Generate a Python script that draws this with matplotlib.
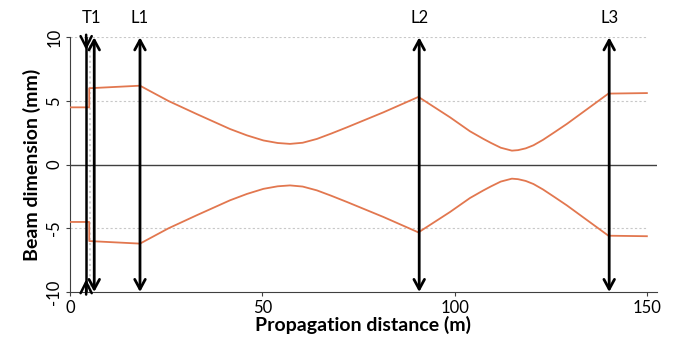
import matplotlib
matplotlib.use("Agg")
import matplotlib.pyplot as plt

plt.rcParams['font.family'] = ['Lato', 'DejaVu Sans']

# Beam envelope (upper)
beam_x = [0, 5.0, 5.0, 18.2, 25.6, 32.9, 41.6, 46.0, 50.3, 54.0, 57.2, 60.5, 64.2, 68.0, 72.0, 81.5, 90.6,
          98.8, 104.0, 107.5, 109.5, 112.0, 114.9, 116.5, 118.5, 120.5, 123.0, 126.0, 129.2, 140.0, 150.0]
beam_upper = [4.5, 4.5, 6.0, 6.2, 5.0, 3.98, 2.80, 2.30, 1.90, 1.70, 1.63, 1.72, 2.02, 2.45, 2.93, 4.11, 5.32,
              3.72, 2.62, 2.02, 1.70, 1.33, 1.10, 1.14, 1.28, 1.52, 1.95, 2.55, 3.20, 5.58, 5.62]
beam_lower = [-4.5, -4.5, -6.0, -6.2, -5.0, -3.98, -2.80, -2.30, -1.90, -1.70, -1.63, -1.72, -2.02, -2.45, -2.93, -4.11, -5.32,
              -3.72, -2.62, -2.02, -1.70, -1.33, -1.10, -1.14, -1.28, -1.52, -1.95, -2.55, -3.20, -5.58, -5.62]

# Optical elements
convex_x = [6.3, 18.2, 90.8, 140.2]
concave_x = [4.2]
label_names = ['T1', 'L1', 'L2', 'L3']
label_x = [5.6, 18.2, 90.8, 140.2]
marker_x = [5.2]

xticks = [0, 50, 100, 150]
yticks = [-10, -5, 0, 5, 10]
grid_y = [-5, 5, 10]

fig = plt.figure(figsize=(6.74, 3.39), dpi=100)
ax = fig.add_axes([70/674, 1-292/339, (656.5-70)/674, (292-37.3)/339])

ax.set_xlim(0, 152.5)
ax.set_ylim(-10, 10)

ax.hlines(grid_y, 0, 150, colors='#C8C8C8', linestyles=(0, (2, 2)), linewidth=0.8, zorder=1)
ax.axhline(0, color='#404040', linewidth=1.0, zorder=2)
for mx in marker_x:
    ax.axvline(mx, color='#D0D0D0', linestyle=(0, (1, 1.5)), linewidth=1.5, zorder=1)

ax.plot(beam_x, beam_upper, color='#E2774F', linewidth=1.3, zorder=3)
ax.plot(beam_x, beam_lower, color='#E2774F', linewidth=1.3, zorder=3)

for cx in convex_x:
    ax.annotate('', xy=(cx, 10), xytext=(cx, -10),
                arrowprops=dict(arrowstyle='<->,head_length=0.7,head_width=0.38',
                                color='black', lw=2.0, shrinkA=0, shrinkB=0), zorder=4)
for cx in concave_x:
    ax.plot([cx, cx], [-10, 10], color='black', linewidth=1.8, zorder=4)
    ax.annotate('', xy=(cx, 9.0), xytext=(cx, 10.2),
                arrowprops=dict(arrowstyle='->,head_length=0.8,head_width=0.4',
                                color='black', lw=1.8, shrinkA=0, shrinkB=0), zorder=4)
    ax.annotate('', xy=(cx, -9.0), xytext=(cx, -10.2),
                arrowprops=dict(arrowstyle='->,head_length=0.8,head_width=0.4',
                                color='black', lw=1.8, shrinkA=0, shrinkB=0), zorder=4)

for name, lx in zip(label_names, label_x):
    ax.text(lx, 10.9, name, ha='center', va='bottom', fontsize=12, color='black')

for s in ['top', 'right']:
    ax.spines[s].set_visible(False)
ax.spines['left'].set_color('#404040')
ax.spines['bottom'].set_color('#404040')

ax.set_xticks(xticks)
ax.set_yticks(yticks)
ax.set_xticklabels([str(t) for t in xticks], fontsize=12)
ax.set_yticklabels([str(t) for t in yticks], fontsize=12, rotation=90, va='center')
ax.tick_params(axis='both', length=3, color='#404040', pad=2.5)

ax.set_xlabel('Propagation distance (m)', fontsize=14, fontweight='bold', labelpad=0)
ax.set_ylabel('Beam dimension (mm)', fontsize=14, fontweight='bold', labelpad=4)

fig.savefig('out.png', dpi=100)
